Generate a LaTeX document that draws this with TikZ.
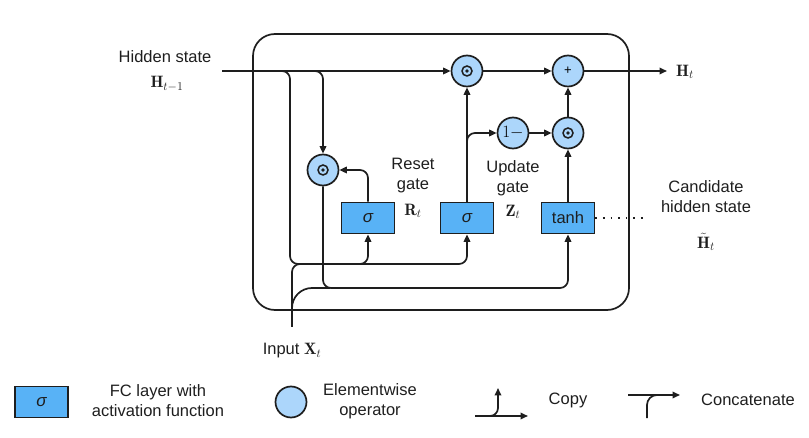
\documentclass[tikz,border=0pt]{standalone}
\usepackage{fontspec}
\setsansfont{Liberation Sans}
\usepackage{amsmath}
\usetikzlibrary{arrows.meta}
\definecolor{fcblue}{RGB}{88,178,246}
\definecolor{opblue}{RGB}{172,214,251}
\definecolor{ink}{RGB}{30,30,30}
\begin{document}
\begin{tikzpicture}[x=1pt,y=-1pt,
  line width=1.7pt, draw=ink,
  >={Triangle[length=7.5pt,width=6.5pt]},
  txt/.style={font=\sffamily\fontsize{16.5}{20}\selectfont, align=center, inner sep=0pt, text=ink},
  fcbox/.style={draw=ink, fill=fcblue, minimum width=53pt, minimum height=31pt, inner sep=0pt, line width=1.7pt, font=\sffamily\fontsize{17}{17}\selectfont, text=ink},
  opnode/.style={circle, draw=ink, fill=opblue, minimum size=31pt, inner sep=0pt, line width=1.7pt},
  odotnode/.style={opnode, path picture={
     \draw[ink, line width=1.5pt] (path picture bounding box.center) circle (5pt);
     \fill[ink] (path picture bounding box.center) circle (1.8pt);}},
  flow/.style={->, rounded corners=8pt}
]
\useasboundingbox (0,0) rectangle (809,438);

% cell frame
\node[draw=ink, line width=1.7pt, rounded corners=22pt, minimum width=376pt, minimum height=276pt, inner sep=0pt] (cell) at (441,172) {};

% operators
\node[odotnode] (odotT) at (467,71) {};
\node[opnode, font=\sffamily\fontsize{13}{13}\selectfont] (plusT) at (568,71) {+};
\node[odotnode] (odotR) at (323,170) {};
\node[opnode, font=\fontsize{16}{16}\selectfont] (onem) at (513,133) {$1-$};
\node[odotnode] (odot2) at (568,133) {};

% FC layers
\node[fcbox] (sig1) at (368,218) {\itshape σ};
\node[fcbox] (sig2) at (467,218) {\itshape σ};
\node[fcbox, font=\sffamily\fontsize{16.5}{16.5}\selectfont] (tanh) at (568,218) {tanh};

% labels
\node[txt] (hlab) at (165,57) {Hidden state};
\node[txt] (hprev) at (167,84) {$\mathbf{H}_{t-1}$};
\node[txt] (hnext) at (685,72) {$\mathbf{H}_t$};
\node[txt] (reset) at (413,176) {Reset\\gate};
\node[txt] (rt) at (413,211) {$\mathbf{R}_t$};
\node[txt] (update) at (513,178) {Update\\gate};
\node[txt] (zt) at (513,212) {$\mathbf{Z}_t$};
\node[txt] (cand) at (706,197) {Candidate\\hidden state};
\node[txt] (htil) at (706,242) {$\tilde{\mathbf{H}}_t$};
\node[txt] (xlab) at (292,351) {Input $\mathbf{X}_t$};

% free ends
\coordinate (hin) at (222,71);
\coordinate (hout) at (667,71);
\coordinate (xin) at (292,327);
\coordinate (dotend) at (645,218);

% connectors
\draw[->] (hin) -- (odotT);
\draw[flow] (hin) -- (290,71) -- (290,264) -- (467,264) -- (sig2.south);
\draw[flow] (350,264) -- (368,264) -- (sig1.south);
\draw[flow] (hin) -- (323,71) -- (odotR.north);
\draw[flow] (odotR.south) -- (323,288) -- (568,288) -- (tanh.south);
\draw[rounded corners=8pt] (xin) -- (292,264) -- (310,264);
\draw[rounded corners=20pt] (xin) -- (292,288) -- (330,288);
\draw[flow] (sig1.north) -- (368,170) -- (odotR.east);
\draw[->] (sig2.north) -- (odotT.south);
\draw[flow] (467,152) -- (467,133) -- (onem.west);
\draw[->] (onem) -- (odot2);
\draw[->] (tanh) -- (odot2);
\draw[->] (odot2) -- (plusT);
\draw[->] (odotT) -- (plusT);
\draw[->] (plusT) -- (hout);
\draw[line width=1.6pt, dash pattern=on 1.6pt off 6pt] (tanh.east) -- (dotend);

% legend
\node[fcbox] (lsig) at (41.5,402) {\itshape σ};
\node[txt] (lfc) at (158,401) {FC layer with\\activation function};
\node[opnode] (lop) at (291,402) {};
\node[txt] (lel) at (370,401) {Elementwise\\operator};
\coordinate (ca) at (475,416);
\coordinate (cb) at (528,416);
\coordinate (cc) at (498,388);
\draw[->] (ca) -- (cb);
\draw[flow] (486,416) -- (498,416) -- (cc);
\node[txt] (copy) at (568,400) {Copy};
\coordinate (ka) at (628,395);
\coordinate (kb) at (680,395);
\coordinate (kc) at (647,418);
\draw[->] (ka) -- (kb);
\draw[rounded corners=10pt] (kc) -- (647,395) -- (665,395);
\node[txt] (concat) at (748,400) {Concatenate};
\end{tikzpicture}
\end{document}
